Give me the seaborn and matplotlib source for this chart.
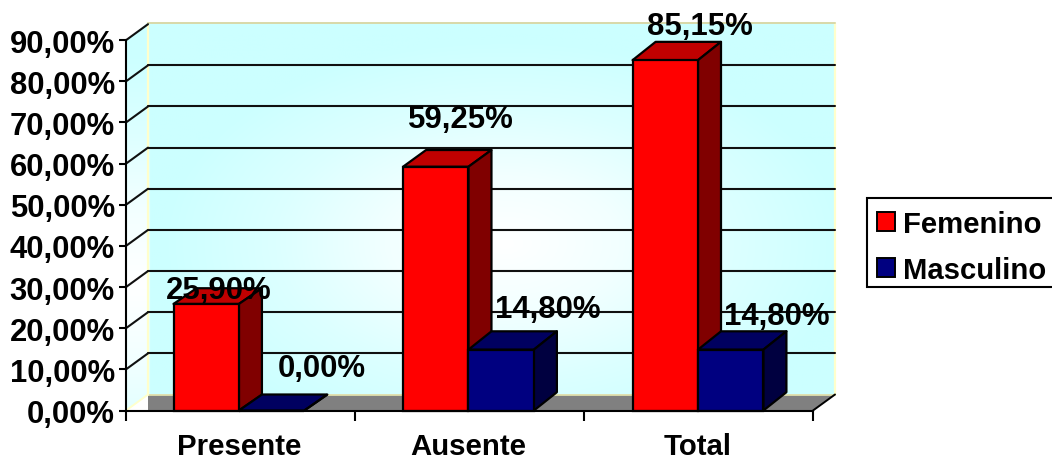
import numpy as np
import pandas as pd
import matplotlib
matplotlib.use("Agg")
import matplotlib.pyplot as plt
from matplotlib.patches import Polygon, Patch, Rectangle
from matplotlib.colors import LinearSegmentedColormap
import seaborn as sns

categories = ["Presente", "Ausente", "Total"]
femenino = [25.90, 59.25, 85.15]
masculino = [0.00, 14.80, 14.80]
series_names = ["Femenino", "Masculino"]
y_ticks = [0, 10, 20, 30, 40, 50, 60, 70, 80, 90]

W, H = 1052, 460
sns.set_theme(style="white")
plt.rcParams["font.family"] = ["Liberation Sans", "DejaVu Sans"]
plt.rcParams["font.weight"] = "bold"

df = pd.DataFrame({
    "cat": categories * 2,
    "sexo": [series_names[0]] * 3 + [series_names[1]] * 3,
    "val": femenino + masculino,
})

fig = plt.figure(figsize=(W / 100, H / 100), dpi=100)
X0, X1, Y0, Y1 = 126.0, 813.0, 411.5, 41.2
WALL_DX, WALL_DY = 22.0, 16.0
WALL_TOP = 23.5

# ---- gradient walls on a background axes (pixel coordinates)
bg = fig.add_axes([X0 / W, 1 - Y0 / H, (X1 + WALL_DX - X0) / W, (Y0 - WALL_TOP) / H], zorder=0)
bg.set_axis_off()
cmap = LinearSegmentedColormap.from_list("w", ["#ffffff", "#f2ffff", "#dcffff", "#ccffff"])
gx, gy = np.meshgrid(np.linspace(X0, X1 + WALL_DX, 360), np.linspace(WALL_TOP, Y0, 200))
r = np.sqrt(((gx - 505) / 345) ** 2 + ((gy - 245) / 205) ** 2)
r_side = np.abs(gy - 285) / 230
r = np.where(gx < X0 + WALL_DX, r_side, r)
im = bg.imshow(np.clip(r, 0, 1), cmap=cmap, vmin=0, vmax=1, aspect="auto", interpolation="bilinear",
               extent=[X0, X1 + WALL_DX, Y0, WALL_TOP])
outline = Polygon([(X0, Y0), (X0 + WALL_DX, Y0 - WALL_DY), (X1 + WALL_DX, Y0 - WALL_DY),
                   (X1 + WALL_DX, WALL_TOP), (X0 + WALL_DX, WALL_TOP), (X0, Y1)],
                  closed=True, transform=bg.transData, fill=False, edgecolor="none")
bg.add_patch(outline)
im.set_clip_path(outline)

ax = fig.add_axes([X0 / W, 1 - Y0 / H, (X1 - X0) / W, (Y0 - Y1) / H], zorder=1)
ax.patch.set_alpha(0)

pal = {"Femenino": "#ff0000", "Masculino": "#000080"}
sns.barplot(data=df, x="cat", y="val", hue="sexo", order=categories, hue_order=series_names,
            palette=pal, width=0.57, saturation=1, edgecolor="black", linewidth=1.6,
            legend=False, ax=ax, zorder=10)
xl, xr = -0.492, 2.501
ax.set_xlim(xl, xr)
ax.set_ylim(0, 90)
ax.set_xlabel("")
ax.set_ylabel("")

ux = (X1 - X0) / (xr - xl)  # px per category
uy = (Y0 - Y1) / 90.0       # px per percent
wall_dx, wall_dy = WALL_DX / ux, WALL_DY / uy
wall_top = (Y0 - WALL_TOP) / uy
bar_dx = 23.0 / ux
bar_depths = [15.7, 16.7, 18.3, 16.0, 18.3, 18.3]

# floor
ax.add_patch(Polygon([(xl + wall_dx, 0), (xr, 0), (xr + wall_dx, wall_dy), (xl + wall_dx, wall_dy)],
                     closed=True, facecolor="#808080", edgecolor="none", zorder=2, clip_on=False))
# pale wall borders
ax.plot([xl + wall_dx] * 2, [wall_dy, wall_top], color="#ffffcc", lw=1.6, zorder=3, clip_on=False)
ax.plot([xr + wall_dx] * 2, [wall_dy, wall_top], color="#ffffcc", lw=1.6, zorder=3, clip_on=False)
ax.plot([xl + wall_dx, xr + wall_dx], [wall_top] * 2, color="#d8d8a8", lw=1.4, zorder=3, clip_on=False)
ax.plot([xl + wall_dx, xr + wall_dx], [wall_dy] * 2, color="#e8e8b0", lw=1.2, zorder=3, clip_on=False)
ax.plot([xl, xl + wall_dx], [0, wall_dy], color="#ffffcc", lw=1.4, zorder=3, clip_on=False)
ax.plot([xr, xr + wall_dx], [0, wall_dy], color="black", lw=1.4, zorder=3, clip_on=False)

# gridlines
for t in y_ticks[1:]:
    if t < 90:
        ax.plot([xl + wall_dx, xr + wall_dx], [t + wall_dy] * 2, color="#101010", lw=1.5, zorder=4, clip_on=False)
    ax.plot([xl, xl + wall_dx], [t, t + wall_dy], color="#101010", lw=1.5, zorder=4, clip_on=False)

# ---- 3D bar faces derived from the bars
shade = {"Femenino": ("#c00000", "#800000"), "Masculino": ("#000060", "#000040")}
idx = 0
for k, (name, cont) in enumerate(zip(series_names, ax.containers)):
    top_c, side_c = shade[name]
    z = 10 + k * 2
    for b in cont:
        x, w, h = b.get_x(), b.get_width(), b.get_height()
        bar_dy = bar_depths[idx] / uy
        idx += 1
        b.set_zorder(z + 1)
        b.set_clip_on(False)
        ax.add_patch(Polygon([(x, h), (x + bar_dx, h + bar_dy), (x + w + bar_dx, h + bar_dy), (x + w, h)],
                             closed=True, facecolor=top_c, edgecolor="black", lw=1.6, zorder=z, clip_on=False,
                             joinstyle="round"))
        ax.add_patch(Polygon([(x + w, 0), (x + w + bar_dx, bar_dy), (x + w + bar_dx, h + bar_dy), (x + w, h)],
                             closed=True, facecolor=side_c, edgecolor="black", lw=1.6, zorder=z, clip_on=False,
                             joinstyle="round"))

# ---- value labels (offsets in px from bar-top centre)
label_off = [(13, 13.5), (25, 47.5), (35, 34.5), (50, 42.5), (47, 40.5), (46, 33.5)]
idx = 0
for cont, vals in zip(ax.containers, (femenino, masculino)):
    for b, v in zip(cont, vals):
        off = label_off[idx]
        idx += 1
        ax.annotate(f"{v:.2f}%".replace(".", ","), (b.get_x() + b.get_width() / 2, v),
                    xytext=(off[0] * 0.72, off[1] * 0.72), textcoords="offset points",
                    ha="center", va="center", fontsize=22.4, fontweight="bold", color="black",
                    zorder=30, annotation_clip=False)

# ---- axes
for s in ("top", "right"):
    ax.spines[s].set_visible(False)
for s in ("left", "bottom"):
    ax.spines[s].set_color("black")
    ax.spines[s].set_linewidth(1.5)
    ax.spines[s].set_zorder(20)
ax.set_yticks(y_ticks)
ax.set_yticklabels([f"{t:.2f}%".replace(".", ",") for t in y_ticks], fontsize=22.3, fontweight="bold", color="black")
ax.tick_params(axis="y", length=5, width=1.5, color="black", pad=3, left=True)
ax.set_xticks(range(3))
ax.set_xticklabels(categories, fontsize=21.2, fontweight="bold", color="black")
ax.set_xticks([xl, 0.505, 1.503, xr], minor=True)
ax.tick_params(axis="x", which="major", length=0, pad=15.5)
ax.tick_params(axis="x", which="minor", length=7, width=1.5, color="black", bottom=True)

# ---- legend
fig.add_artist(Rectangle((867 / W, 1 - 288 / H), 200 / W, 89 / H, transform=fig.transFigure,
                         facecolor="white", edgecolor="black", linewidth=1.5))
handles = [Patch(facecolor=pal[n], edgecolor="black", linewidth=1.4) for n in series_names]
leg = fig.legend(handles, series_names, loc="upper left", bbox_to_anchor=(877 / W, 1 - 211 / H),
                 bbox_transform=fig.transFigure, borderaxespad=0, frameon=False, fontsize=21.1,
                 labelcolor="black", handlelength=0.62, handleheight=0.62, handletextpad=0.28,
                 borderpad=0, labelspacing=0.62)
leg.set_zorder(5)

fig.savefig("out.png", dpi=100, facecolor="white")
